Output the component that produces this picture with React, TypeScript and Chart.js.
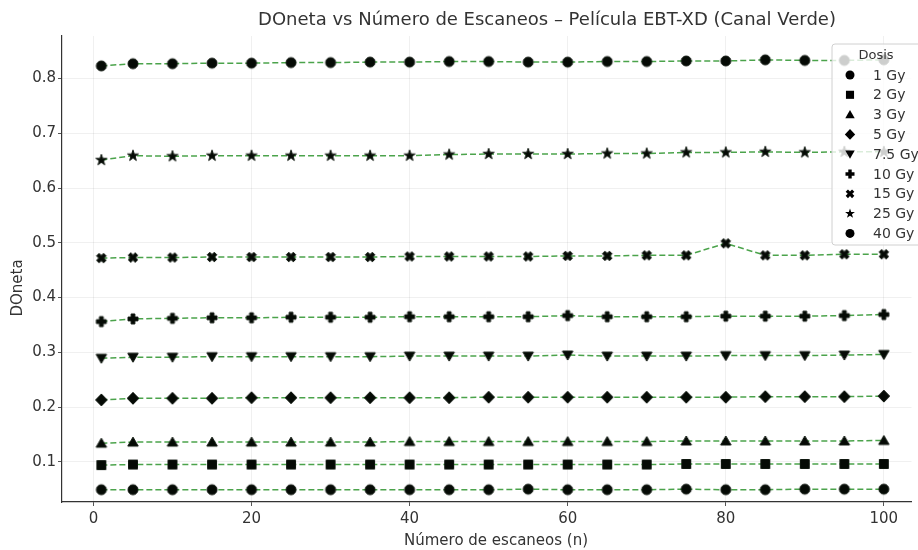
import React, { useEffect, useRef } from 'react';
import { Chart, registerables } from 'chart.js';

Chart.register(...registerables);

// ---------- data ----------
const scans = [1, 5, 10, 15, 20, 25, 30, 35, 40, 45, 50, 55, 60, 65, 70, 75, 80, 85, 90, 95, 100];
const doseLabels = ['1 Gy', '2 Gy', '3 Gy', '5 Gy', '7.5 Gy', '10 Gy', '15 Gy', '25 Gy', '40 Gy'];

const dose1 = [0.049, 0.049, 0.049, 0.049, 0.049, 0.049, 0.049, 0.049, 0.049, 0.049, 0.049, 0.050, 0.049, 0.049, 0.049, 0.050, 0.049, 0.049, 0.050, 0.050, 0.050];
const dose2 = [0.094, 0.095, 0.095, 0.095, 0.095, 0.095, 0.095, 0.095, 0.095, 0.095, 0.095, 0.095, 0.095, 0.095, 0.095, 0.096, 0.096, 0.096, 0.096, 0.096, 0.096];
const dose3 = [0.134, 0.136, 0.136, 0.136, 0.136, 0.136, 0.136, 0.136, 0.137, 0.137, 0.137, 0.137, 0.137, 0.137, 0.137, 0.138, 0.138, 0.138, 0.138, 0.138, 0.139];
const dose5 = [0.213, 0.216, 0.216, 0.216, 0.217, 0.217, 0.217, 0.217, 0.217, 0.217, 0.218, 0.218, 0.218, 0.218, 0.218, 0.218, 0.218, 0.219, 0.219, 0.219, 0.220];
const dose75 = [0.289, 0.291, 0.291, 0.292, 0.292, 0.292, 0.292, 0.292, 0.293, 0.293, 0.293, 0.293, 0.295, 0.293, 0.293, 0.293, 0.294, 0.294, 0.294, 0.295, 0.296];
const dose10 = [0.356, 0.361, 0.362, 0.363, 0.363, 0.364, 0.364, 0.364, 0.365, 0.365, 0.365, 0.365, 0.367, 0.365, 0.365, 0.365, 0.366, 0.366, 0.366, 0.367, 0.369];
const dose15 = [0.472, 0.473, 0.473, 0.474, 0.474, 0.474, 0.474, 0.474, 0.475, 0.475, 0.475, 0.475, 0.476, 0.476, 0.477, 0.477, 0.499, 0.477, 0.477, 0.479, 0.479];
const dose25 = [0.651, 0.659, 0.658, 0.659, 0.659, 0.659, 0.659, 0.659, 0.659, 0.661, 0.662, 0.662, 0.662, 0.663, 0.663, 0.665, 0.665, 0.666, 0.665, 0.666, 0.666];
const dose40 = [0.823, 0.827, 0.827, 0.828, 0.828, 0.829, 0.829, 0.830, 0.830, 0.831, 0.831, 0.830, 0.830, 0.831, 0.831, 0.832, 0.832, 0.834, 0.833, 0.833, 0.834];

const seriesValues = [dose1, dose2, dose3, dose5, dose75, dose10, dose15, dose25, dose40];
const markerKinds = ['circle', 'square', 'triangle', 'diamond', 'tridown', 'plus', 'xfill', 'star', 'circle'];

const xTicks = [0, 20, 40, 60, 80, 100];
const yTicks = [0.1, 0.2, 0.3, 0.4, 0.5, 0.6, 0.7, 0.8];

const titleText = 'DOneta vs Número de Escaneos – Película EBT-XD (Canal Verde)';
const xTitle = 'Número de escaneos (n)';
const yTitle = 'DOneta';
const legendTitle = 'Dosis';

const FONT = '"DejaVu Sans", sans-serif';
const TEXT = '#333333';

// ---------- marker drawing ----------
function shapePath(ctx: CanvasRenderingContext2D, kind: string, r: number) {
  ctx.beginPath();
  switch (kind) {
    case 'circle':
      ctx.arc(0, 0, r, 0, Math.PI * 2);
      break;
    case 'square':
      ctx.rect(-r * 0.9, -r * 0.9, r * 1.8, r * 1.8);
      break;
    case 'triangle':
      ctx.moveTo(0, -r);
      ctx.lineTo(r * 1.05, r * 0.8);
      ctx.lineTo(-r * 1.05, r * 0.8);
      ctx.closePath();
      break;
    case 'tridown':
      ctx.moveTo(0, r);
      ctx.lineTo(r * 1.05, -r * 0.8);
      ctx.lineTo(-r * 1.05, -r * 0.8);
      ctx.closePath();
      break;
    case 'diamond':
      ctx.moveTo(0, -r * 1.2);
      ctx.lineTo(r * 1.15, 0);
      ctx.lineTo(0, r * 1.2);
      ctx.lineTo(-r * 1.15, 0);
      ctx.closePath();
      break;
    case 'plus': {
      const a = r, b = r * 0.38;
      ctx.moveTo(-b, -a);
      ctx.lineTo(b, -a);
      ctx.lineTo(b, -b);
      ctx.lineTo(a, -b);
      ctx.lineTo(a, b);
      ctx.lineTo(b, b);
      ctx.lineTo(b, a);
      ctx.lineTo(-b, a);
      ctx.lineTo(-b, b);
      ctx.lineTo(-a, b);
      ctx.lineTo(-a, -b);
      ctx.lineTo(-b, -b);
      ctx.closePath();
      break;
    }
    case 'xfill': {
      const a = r, b = r * 0.36;
      const pts: [number, number][] = [
        [-b, -a], [b, -a], [b, -b], [a, -b], [a, b], [b, b], [b, a], [-b, a], [-b, b], [-a, b], [-a, -b], [-b, -b],
      ];
      const c = Math.cos(Math.PI / 4), s = Math.sin(Math.PI / 4);
      pts.forEach(([x, y], i) => {
        const rx = x * c - y * s;
        const ry = x * s + y * c;
        if (i === 0) ctx.moveTo(rx, ry);
        else ctx.lineTo(rx, ry);
      });
      ctx.closePath();
      break;
    }
    case 'star': {
      const outer = r * 1.15, inner = r * 0.45;
      for (let i = 0; i < 10; i++) {
        const ang = -Math.PI / 2 + (i * Math.PI) / 5;
        const rad = i % 2 === 0 ? outer : inner;
        const x = Math.cos(ang) * rad;
        const y = Math.sin(ang) * rad;
        if (i === 0) ctx.moveTo(x, y);
        else ctx.lineTo(x, y);
      }
      ctx.closePath();
      break;
    }
  }
}

function makeMarker(kind: string, r: number): HTMLCanvasElement {
  const size = 18;
  const c = document.createElement('canvas');
  c.width = size;
  c.height = size;
  const ctx = c.getContext('2d')!;
  ctx.translate(size / 2, size / 2);
  shapePath(ctx, kind, r);
  ctx.fillStyle = '#050a05';
  ctx.fill();
  ctx.lineWidth = 1;
  ctx.strokeStyle = '#101810';
  ctx.stroke();
  return c;
}

// ---------- decorations plugin ----------
const decoPlugin = {
  id: 'deco',
  afterDraw(chart: any) {
    const ctx: CanvasRenderingContext2D = chart.ctx;
    ctx.save();
    // title
    ctx.fillStyle = TEXT;
    ctx.font = `18px ${FONT}`;
    ctx.textAlign = 'center';
    ctx.textBaseline = 'middle';
    ctx.fillText(titleText, 547, 20);
    // x title
    ctx.font = `15px ${FONT}`;
    ctx.fillText(xTitle, 496, 541);
    // y title
    ctx.save();
    ctx.translate(18, 288);
    ctx.rotate(-Math.PI / 2);
    ctx.fillText(yTitle, 0, 0);
    ctx.restore();

    // legend
    const lx = 832, ly = 44, lw = 100, lh = 201;
    ctx.beginPath();
    if ((ctx as any).roundRect) (ctx as any).roundRect(lx, ly, lw, lh, 3);
    else ctx.rect(lx, ly, lw, lh);
    ctx.fillStyle = 'rgba(255,255,255,0.8)';
    ctx.fill();
    ctx.strokeStyle = '#d0d0d0';
    ctx.lineWidth = 1;
    ctx.stroke();

    ctx.fillStyle = TEXT;
    ctx.font = `13px ${FONT}`;
    ctx.textAlign = 'center';
    ctx.fillText(legendTitle, 876, 56);

    ctx.font = `14px ${FONT}`;
    ctx.textAlign = 'left';
    doseLabels.forEach((lab, i) => {
      const y = 75 + i * 19.8;
      ctx.save();
      ctx.translate(850, y);
      shapePath(ctx, markerKinds[i], 4.5);
      ctx.fillStyle = '#000';
      ctx.fill();
      ctx.restore();
      ctx.fillStyle = TEXT;
      ctx.fillText(lab, 873, y + 1);
    });
    ctx.restore();
  },
};

export default function App() {
  const ref = useRef<HTMLCanvasElement | null>(null);

  useEffect(() => {
    if (!ref.current) return;
    const datasets = seriesValues.map((vals, i) => {
      const marker = makeMarker(markerKinds[i], 5);
      return {
        label: doseLabels[i],
        data: scans.map((x, j) => ({ x, y: vals[j] })),
        borderColor: 'rgba(30,140,30,0.8)',
        borderWidth: 1.5,
        borderDash: [6, 3],
        backgroundColor: '#000',
        pointStyle: marker as any,
        pointRadius: 5,
        showLine: true,
        tension: 0,
      };
    });

    const chart = new Chart(ref.current, {
      type: 'line',
      data: { datasets },
      options: {
        animation: false,
        responsive: false,
        devicePixelRatio: 1,
        layout: { padding: { top: 36, left: 0, right: 0, bottom: 0 } },
        plugins: {
          legend: { display: false },
          title: { display: false },
          tooltip: { enabled: false },
        },
        scales: {
          x: {
            type: 'linear',
            min: -3.98,
            max: 103.5,
            afterBuildTicks: (s: any) => {
              s.ticks = xTicks.map((v) => ({ value: v }));
            },
            afterFit: (s: any) => {
              s.height = 48;
            },
            grid: {
              color: 'rgba(0,0,0,0.06)',
              lineWidth: 1,
              tickLength: 4,
              tickColor: '#555',
              drawTicks: true,
            },
            border: { color: '#333', width: 1.2 },
            ticks: {
              font: { family: FONT, size: 15 },
              color: TEXT,
              padding: 4,
              maxRotation: 0,
              autoSkip: false,
              callback: (v: any) => String(v),
            },
          },
          y: {
            type: 'linear',
            min: 0.0266,
            max: 0.8776,
            afterBuildTicks: (s: any) => {
              s.ticks = yTicks.map((v) => ({ value: v }));
            },
            afterFit: (s: any) => {
              s.width = 62;
            },
            grid: {
              color: 'rgba(0,0,0,0.06)',
              lineWidth: 1,
              tickLength: 4,
              tickColor: '#555',
              drawTicks: true,
            },
            border: { color: '#333', width: 1.2 },
            ticks: {
              font: { family: FONT, size: 15 },
              color: TEXT,
              padding: 2,
              autoSkip: false,
              callback: (v: any) => Number(v).toFixed(1),
            },
          },
        },
      },
      plugins: [decoPlugin],
    } as any);

    return () => chart.destroy();
  }, []);

  return (
    <div
      style={{
        position: 'fixed',
        left: 0,
        top: 0,
        width: 918,
        height: 550,
        overflow: 'hidden',
        background: '#fff',
      }}
    >
      <canvas ref={ref} width={918} height={550} style={{ display: 'block', width: 918, height: 550 }} />
    </div>
  );
}
